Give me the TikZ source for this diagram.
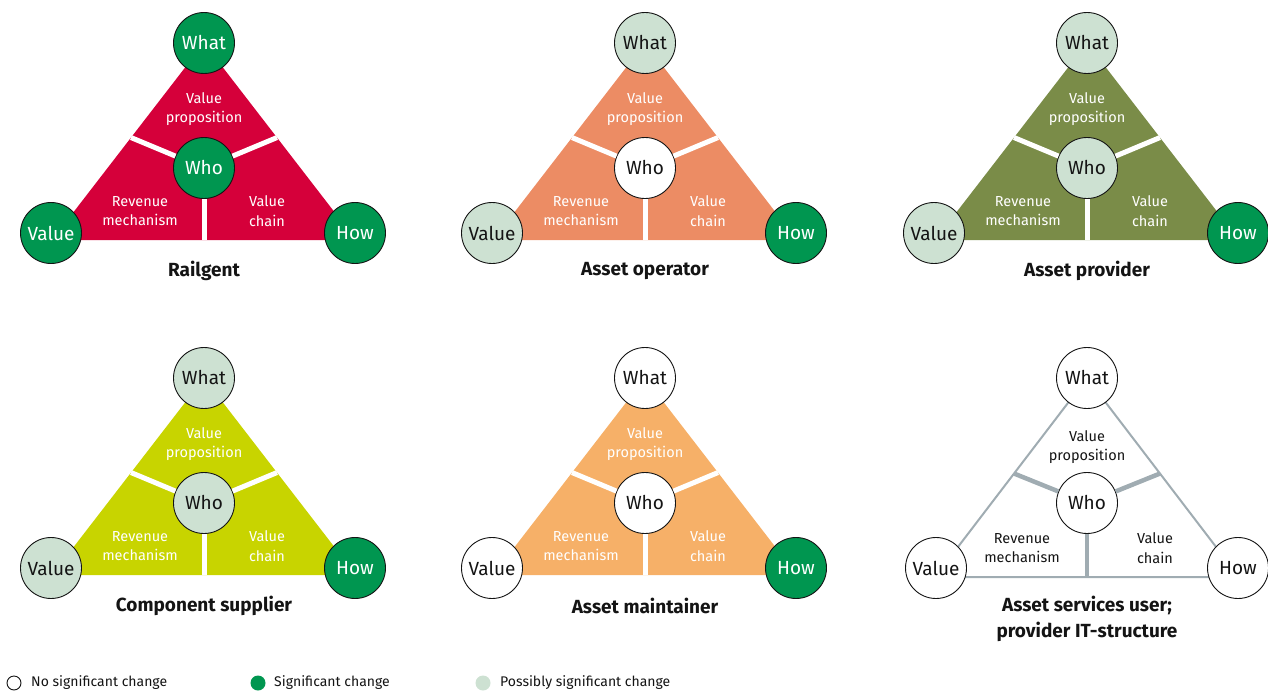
\documentclass[tikz,border=0pt]{standalone}
\usepackage{fontspec}
\setmainfont{Fira Sans}
\usetikzlibrary{calc}

\definecolor{sigGreen}{RGB}{0,150,80}
\definecolor{maybeGreen}{RGB}{205,225,210}
\definecolor{railRed}{RGB}{213,0,58}
\definecolor{operatorSalmon}{RGB}{236,140,100}
\definecolor{providerOlive}{RGB}{122,140,72}
\definecolor{supplierLime}{RGB}{200,212,0}
\definecolor{maintainerOrange}{RGB}{246,176,104}
\definecolor{lineGrey}{RGB}{160,172,178}
\definecolor{inkBlack}{RGB}{20,20,20}

\tikzset{
  corner/.style={circle,draw=inkBlack,line width=0.9pt,minimum size=61pt,inner sep=0pt,
                 font=\fontsize{19}{21}\selectfont},
  sig/.style={corner,fill=sigGreen,text=white},
  maybe/.style={corner,fill=maybeGreen,text=inkBlack},
  nochange/.style={corner,fill=white,text=inkBlack},
  field/.style={align=center,text=white,font=\fontsize{14.5}{19.5}\selectfont},
  role/.style={align=center,text=inkBlack,font=\bfseries\fontsize{19}{26}\selectfont},
  cut/.style={white,line width=5pt},
  rim/.style={lineGrey,line width=2pt},
  greycut/.style={lineGrey,line width=4.5pt},
  keytext/.style={anchor=west,inner sep=0pt,text=inkBlack,font=\fontsize{14}{16}\selectfont},
}

% one coloured triangle: prefix, x, top, fill, what, who, value, how, title
\newcommand{\rolepanel}[9]{%
  \coordinate (#1-apex) at (#2,#3);
  \coordinate (#1-left) at (#2-152,#3+197);
  \coordinate (#1-right) at (#2+152,#3+197);
  \fill [#4] (#1-apex) -- (#1-left) -- (#1-right) -- cycle;
  \node [#5] (#1-what) at (#1-apex) {What};
  \node [#6] (#1-who) at (#2,#3+125) {Who};
  \node [#7] (#1-value) at (#2-153,#3+190) {Value};
  \node [#8] (#1-how) at (#2+151,#3+190) {How};
  \draw [cut] (#1-who) -- ($(#1-apex)!0.48!(#1-left)$);
  \draw [cut] (#1-who) -- ($(#1-apex)!0.48!(#1-right)$);
  \draw [cut] (#1-who) -- ($(#1-left)!0.5!(#1-right)$);
  \node [field] (#1-prop) at (#2,#3+66) {Value\\proposition};
  \node [field] (#1-rev) at (#2-64,#3+168) {Revenue\\mechanism};
  \node [field] (#1-chain) at (#2+63,#3+168) {Value\\chain};
  \node [role] (#1-title) at (#2,#3+228) {#9};
}

\begin{document}
\begin{tikzpicture}[x={(1pt,0)},y={(0,-1pt)}]
\useasboundingbox (0,0) rectangle (1268,693);

% top row
\rolepanel{rail}{204}{43}{railRed}{sig}{sig}{sig}{sig}{Railgent}
\rolepanel{oper}{645}{43}{operatorSalmon}{maybe}{nochange}{maybe}{sig}{Asset operator}
\rolepanel{prov}{1087}{43}{providerOlive}{maybe}{maybe}{maybe}{sig}{Asset provider}

% bottom row
\rolepanel{supp}{204}{378}{supplierLime}{maybe}{maybe}{maybe}{sig}{Component supplier}
\rolepanel{main}{645}{378}{maintainerOrange}{nochange}{nochange}{nochange}{sig}{Asset maintainer}

% asset services user: outline only
\coordinate (user-apex) at (1087,378);
\coordinate (user-left) at (935,577);
\coordinate (user-right) at (1239,577);
\draw [rim] (user-apex) -- (user-left) -- (user-right) -- cycle;
\node [nochange] (user-what) at (user-apex) {What};
\node [nochange] (user-who) at (1087,503) {Who};
\node [nochange] (user-value) at (936,568) {Value};
\node [nochange] (user-how) at (1238,568) {How};
\draw [greycut] (user-who) -- ($(user-apex)!0.48!(user-left)$);
\draw [greycut] (user-who) -- ($(user-apex)!0.48!(user-right)$);
\draw [greycut] (user-who) -- ($(user-left)!0.5!(user-right)$);
\node [field,text=inkBlack] (user-prop) at (1087,447) {Value\\proposition};
\node [field,text=inkBlack] (user-rev) at (1022,548) {Revenue\\mechanism};
\node [field,text=inkBlack] (user-chain) at (1155,548) {Value\\chain};
\node [role] (user-title) at (1087,619) {Asset services user;\\provider IT-structure};

% legend
\node [circle,draw=inkBlack,line width=0.9pt,fill=white,minimum size=14pt,inner sep=0pt] (key-none) at (14,683) {};
\node [keytext] (key-none-text) at (31,683) {No significant change};
\node [circle,fill=sigGreen,minimum size=15pt,inner sep=0pt] (key-sig) at (258,683) {};
\node [keytext] (key-sig-text) at (274,683) {Significant change};
\node [circle,fill=maybeGreen,minimum size=15pt,inner sep=0pt] (key-maybe) at (483,683) {};
\node [keytext] (key-maybe-text) at (500,683) {Possibly significant change};
\end{tikzpicture}
\end{document}
